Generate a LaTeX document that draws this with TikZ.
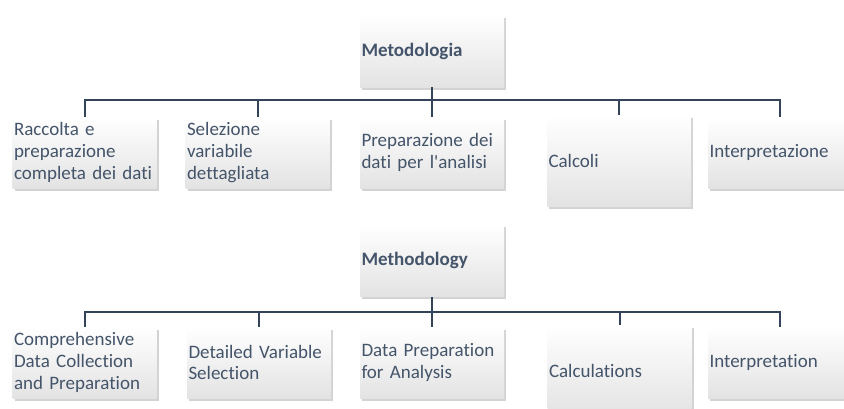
\documentclass[tikz,border=0pt]{standalone}
\usepackage{fontspec}
\setmainfont[Ligatures=NoCommon]{Carlito}
\usetikzlibrary{shadows}
\definecolor{txtcol}{HTML}{44546A}
\definecolor{buscol}{HTML}{33445A}

\begin{document}
\begin{tikzpicture}
			[x=1pt,y=-1pt,
			card/.style={shade,top color=white,middle color=white,bottom color=black!11,
				drop shadow={shadow xshift=2pt,shadow yshift=-2.5pt,opacity=.35},
				inner xsep=1.5pt,inner ysep=0pt,text width=141pt,minimum height=71pt,
				align=left,text=txtcol,font=\fontsize{19pt}{21.7pt}\selectfont},
			tall/.style={minimum height=91pt},
			head/.style={minimum height=72pt,font=\fontsize{19pt}{21.7pt}\selectfont\bfseries},
			bus/.style={draw=buscol,line width=2pt}]
			\useasboundingbox (0,0) rectangle (844,408);
			\clip (0,0) rectangle (844,408);
			
			% Italian chart
			\node[card,head] (troot) at (432,51) {Metodologia};
			\node[card] (t1) at (84.5,152.5) {Raccolta e\\preparazione\\completa dei dati};
			\node[card] (t2) at (257.5,152.5) {Selezione\\variabile\\dettagliata};
			\node[card] (t3) at (432,152.5) {Preparazione dei\\dati per l\textquotesingle analisi};
			\node[card,tall] (t4) at (619,160.5) {Calcoli};
			\node[card] (t5) at (780,152.5) {Interpretazione};
			\coordinate (tbus) at (432,100);
			
			\draw[bus] (troot.south) -- (tbus);
			\foreach \kid in {t1,t2,t3,t4,t5}
			\draw[bus] (tbus) -| (\kid.north);
			
			% English chart
			\node[card,head] (broot) at (432,260.5) {Methodology};
			\node[card] (b1) at (84.5,362.5) {Comprehensive\\Data Collection\\and Preparation};
			\node[card] (b2) at (259,362.5) {Detailed Variable\\Selection};
			\node[card] (b3) at (432,362.5) {Data Preparation\\for Analysis};
			\node[card,tall] (b4) at (619.5,370.5) {Calculations};
			\node[card] (b5) at (780,362.5) {Interpretation};
			\coordinate (bbus) at (432,312);
			
			\draw[bus] (broot.south) -- (bbus);
			\foreach \kid in {b1,b2,b3,b4,b5}
			\draw[bus] (bbus) -| (\kid.north);
			\end{tikzpicture}
\end{document}
